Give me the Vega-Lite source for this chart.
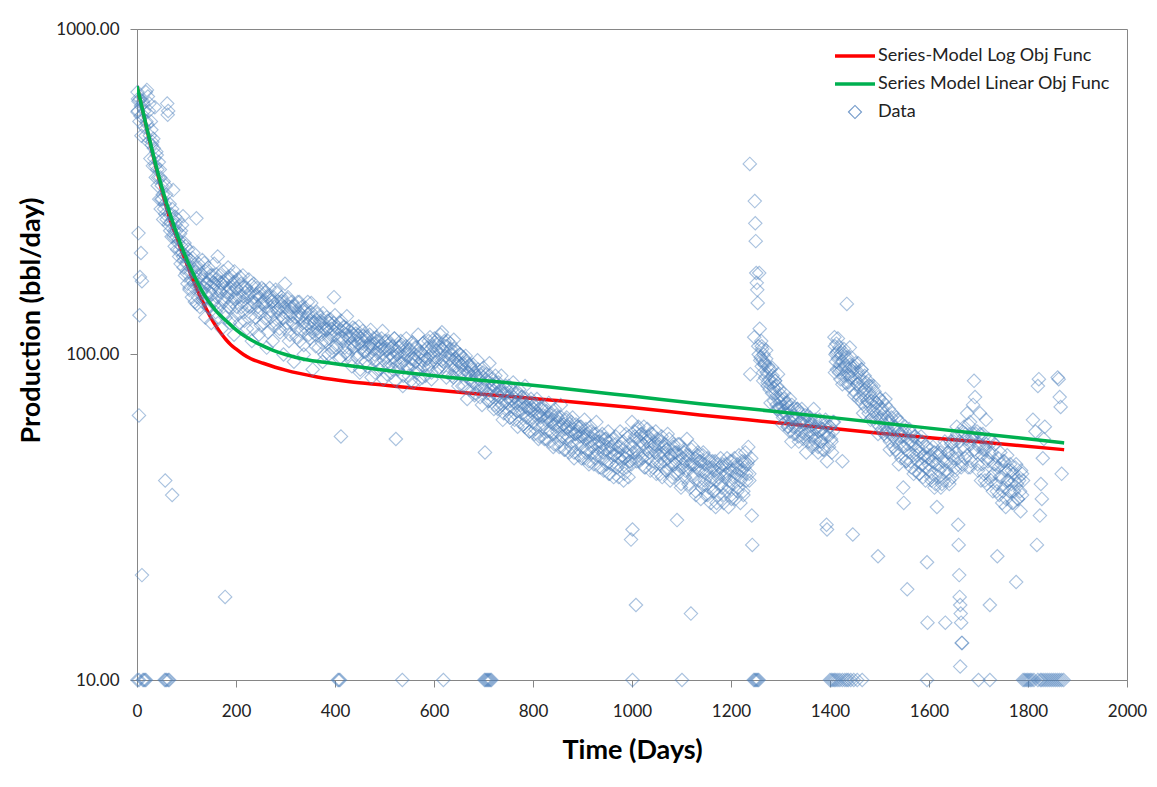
{
"$schema":"https://vega.github.io/schema/vega-lite/v6.json",
"autosize":{"type":"none"},
"padding":{"left":137,"top":29,"right":30,"bottom":107},
"width":990,"height":651,
"background":"white",
"config":{"view":{"stroke":"#868686","strokeWidth":1},"font":"Lato"},
"datasets":{
"logfit":[{"t":0,"q":668},{"t":10,"q":573},{"t":20,"q":492},{"t":30,"q":424},{"t":40,"q":367},{"t":50,"q":320},{"t":60,"q":282},{"t":70,"q":251},{"t":80,"q":230},{"t":90,"q":208},{"t":100,"q":191},{"t":110,"q":174},{"t":120,"q":160},{"t":130,"q":148},{"t":140,"q":138},{"t":150,"q":129},{"t":160,"q":122},{"t":170,"q":116},{"t":180,"q":111},{"t":190,"q":107},{"t":200,"q":104},{"t":215,"q":100},{"t":230,"q":97},{"t":255,"q":94},{"t":300,"q":89.5},{"t":364,"q":85.3},{"t":430,"q":82.5},{"t":497,"q":80.6},{"t":580,"q":78.3},{"t":667,"q":76.2},{"t":750,"q":74.4},{"t":834,"q":72.5},{"t":1000,"q":68.7},{"t":1137,"q":65.2},{"t":1299,"q":61.6},{"t":1500,"q":57.3},{"t":1700,"q":53.9},{"t":1873,"q":51.0}],
"linfit":[{"t":0,"q":668},{"t":10,"q":575},{"t":20,"q":495},{"t":30,"q":428},{"t":40,"q":372},{"t":50,"q":327},{"t":60,"q":291},{"t":70,"q":261},{"t":80,"q":236},{"t":90,"q":215},{"t":100,"q":197},{"t":110,"q":182},{"t":120,"q":169},{"t":130,"q":158},{"t":140,"q":149},{"t":150,"q":142},{"t":160,"q":136},{"t":170,"q":131},{"t":180,"q":127},{"t":195,"q":121},{"t":210,"q":116},{"t":230,"q":111},{"t":250,"q":107},{"t":275,"q":103},{"t":300,"q":100},{"t":340,"q":96.5},{"t":390,"q":94.2},{"t":450,"q":91.5},{"t":531,"q":88.4},{"t":633,"q":85},{"t":733,"q":82.3},{"t":834,"q":79.4},{"t":1000,"q":74.5},{"t":1137,"q":70.6},{"t":1299,"q":66.6},{"t":1500,"q":61.7},{"t":1700,"q":57.2},{"t":1873,"q":53.5}],
"data":[
{"t":1,"q":640},{"t":2,"q":560},{"t":3,"q":600},{"t":5,"q":520},{"t":6,"q":610},{"t":8,"q":580},{"t":9,"q":470},{"t":11,"q":545},{"t":12,"q":600},{"t":14,"q":500},{"t":15,"q":560},{"t":17,"q":470},{"t":18,"q":640},{"t":20,"q":650},{"t":21,"q":510},{"t":23,"q":450},{"t":24,"q":560},{"t":26,"q":470},{"t":27,"q":400},{"t":29,"q":490},{"t":30,"q":440},{"t":32,"q":380},{"t":33,"q":460},{"t":35,"q":400},{"t":36,"q":575},{"t":38,"q":350},{"t":39,"q":420},{"t":41,"q":370},{"t":42,"q":330},{"t":44,"q":390},{"t":45,"q":300},{"t":47,"q":350},{"t":48,"q":280},{"t":50,"q":330},{"t":51,"q":300},{"t":53,"q":260},{"t":54,"q":340},{"t":56,"q":290},{"t":57,"q":270},{"t":59,"q":310},{"t":60,"q":260},{"t":61,"q":590},{"t":62,"q":545},{"t":63,"q":560},{"t":64,"q":250},{"t":66,"q":290},{"t":67,"q":240},{"t":69,"q":270},{"t":70,"q":230},{"t":72,"q":260},{"t":73,"q":320},{"t":75,"q":240},{"t":76,"q":215},{"t":78,"q":250},{"t":79,"q":230},{"t":81,"q":210},{"t":82,"q":260},{"t":84,"q":225},{"t":85,"q":200},{"t":87,"q":235},{"t":88,"q":190},{"t":90,"q":215},{"t":91,"q":250},{"t":93,"q":200},{"t":94,"q":185},{"t":96,"q":220},{"t":97,"q":175},{"t":99,"q":200},{"t":100,"q":190},{"t":102,"q":165},{"t":103,"q":210},{"t":105,"q":180},{"t":106,"q":160},{"t":108,"q":195},{"t":109,"q":170},{"t":111,"q":150},{"t":112,"q":185},{"t":114,"q":205},{"t":115,"q":165},{"t":117,"q":145},{"t":118,"q":180},{"t":120,"q":262},{"t":121,"q":170},{"t":123,"q":150},{"t":124,"q":190},{"t":126,"q":160},{"t":127,"q":140},{"t":129,"q":175},{"t":130,"q":155},{"t":132,"q":195},{"t":133,"q":145},{"t":135,"q":170},{"t":136,"q":160},{"t":138,"q":130},{"t":139,"q":180},{"t":141,"q":165},{"t":142,"q":150},{"t":144,"q":185},{"t":145,"q":140},{"t":147,"q":170},{"t":148,"q":155},{"t":150,"q":125},{"t":151,"q":175},{"t":153,"q":160},{"t":154,"q":145},{"t":156,"q":190},{"t":157,"q":165},{"t":159,"q":135},{"t":160,"q":170},{"t":162,"q":150},{"t":163,"q":200},{"t":165,"q":160},{"t":166,"q":140},{"t":168,"q":175},{"t":169,"q":155},{"t":171,"q":120},{"t":172,"q":165},{"t":174,"q":180},{"t":175,"q":145},{"t":177,"q":160},{"t":178,"q":18},{"t":179,"q":130},{"t":181,"q":170},{"t":182,"q":150},{"t":184,"q":185},{"t":185,"q":140},{"t":187,"q":160},{"t":188,"q":125},{"t":190,"q":175},{"t":191,"q":155},{"t":193,"q":145},{"t":194,"q":165},{"t":196,"q":115},{"t":197,"q":180},{"t":199,"q":150},{"t":200,"q":160},{"t":202,"q":140},{"t":204,"q":170},{"t":206,"q":150},{"t":208,"q":125},{"t":210,"q":165},{"t":212,"q":145},{"t":214,"q":175},{"t":216,"q":135},{"t":218,"q":155},{"t":220,"q":160},{"t":222,"q":120},{"t":224,"q":150},{"t":226,"q":170},{"t":228,"q":140},{"t":230,"q":155},{"t":232,"q":110},{"t":234,"q":145},{"t":236,"q":165},{"t":238,"q":150},{"t":240,"q":130},{"t":242,"q":160},{"t":244,"q":140},{"t":246,"q":115},{"t":248,"q":150},{"t":250,"q":135},{"t":252,"q":160},{"t":254,"q":145},{"t":256,"q":125},{"t":258,"q":155},{"t":260,"q":140},{"t":262,"q":105},{"t":264,"q":150},{"t":266,"q":135},{"t":268,"q":160},{"t":270,"q":130},{"t":272,"q":145},{"t":274,"q":110},{"t":276,"q":150},{"t":278,"q":140},{"t":280,"q":125},{"t":282,"q":155},{"t":284,"q":135},{"t":286,"q":145},{"t":288,"q":120},{"t":290,"q":140},{"t":292,"q":150},{"t":294,"q":130},{"t":296,"q":100},{"t":298,"q":145},{"t":299,"q":165},{"t":301,"q":135},{"t":303,"q":125},{"t":305,"q":150},{"t":307,"q":140},{"t":309,"q":115},{"t":311,"q":135},{"t":313,"q":145},{"t":315,"q":125},{"t":317,"q":95},{"t":319,"q":140},{"t":321,"q":130},{"t":323,"q":120},{"t":325,"q":145},{"t":327,"q":135},{"t":329,"q":110},{"t":331,"q":130},{"t":333,"q":140},{"t":335,"q":125},{"t":337,"q":100},{"t":339,"q":135},{"t":341,"q":120},{"t":343,"q":130},{"t":345,"q":145},{"t":347,"q":115},{"t":349,"q":125},{"t":351,"q":135},{"t":353,"q":120},{"t":355,"q":90},{"t":357,"q":130},{"t":359,"q":125},{"t":361,"q":115},{"t":363,"q":135},{"t":365,"q":120},{"t":367,"q":105},{"t":369,"q":125},{"t":371,"q":130},{"t":373,"q":115},{"t":375,"q":95},{"t":377,"q":125},{"t":379,"q":120},{"t":381,"q":110},{"t":383,"q":130},{"t":385,"q":120},{"t":387,"q":100},{"t":389,"q":125},{"t":391,"q":115},{"t":393,"q":120},{"t":395,"q":105},{"t":397,"q":125},{"t":398,"q":150},{"t":400,"q":115},{"t":402,"q":105},{"t":404,"q":120},{"t":407,"q":112},{"t":409,"q":125},{"t":411,"q":98},{"t":412,"q":56},{"t":414,"q":118},{"t":416,"q":110},{"t":418,"q":122},{"t":420,"q":105},{"t":422,"q":115},{"t":424,"q":120},{"t":426,"q":100},{"t":428,"q":112},{"t":430,"q":118},{"t":432,"q":108},{"t":434,"q":92},{"t":436,"q":115},{"t":438,"q":105},{"t":440,"q":120},{"t":442,"q":110},{"t":444,"q":100},{"t":446,"q":115},{"t":448,"q":108},{"t":450,"q":88},{"t":452,"q":112},{"t":454,"q":105},{"t":456,"q":118},{"t":458,"q":102},{"t":460,"q":110},{"t":462,"q":95},{"t":464,"q":113},{"t":466,"q":105},{"t":468,"q":100},{"t":470,"q":115},{"t":472,"q":108},{"t":474,"q":85},{"t":476,"q":104},{"t":478,"q":112},{"t":480,"q":100},{"t":482,"q":108},{"t":484,"q":96},{"t":486,"q":110},{"t":488,"q":104},{"t":490,"q":90},{"t":492,"q":106},{"t":494,"q":112},{"t":496,"q":100},{"t":498,"q":84},{"t":500,"q":105},{"t":502,"q":110},{"t":504,"q":98},{"t":506,"q":104},{"t":508,"q":92},{"t":510,"q":108},{"t":512,"q":100},{"t":514,"q":88},{"t":516,"q":106},{"t":518,"q":98},{"t":520,"q":112},{"t":522,"q":95},{"t":523,"q":55},{"t":525,"q":102},{"t":527,"q":90},{"t":529,"q":105},{"t":531,"q":98},{"t":533,"q":110},{"t":535,"q":94},{"t":537,"q":80},{"t":539,"q":102},{"t":541,"q":96},{"t":543,"q":106},{"t":545,"q":92},{"t":547,"q":100},{"t":549,"q":86},{"t":551,"q":104},{"t":553,"q":97},{"t":555,"q":108},{"t":557,"q":93},{"t":559,"q":82},{"t":561,"q":100},{"t":563,"q":95},{"t":565,"q":105},{"t":567,"q":90},{"t":569,"q":98},{"t":571,"q":84},{"t":573,"q":102},{"t":575,"q":96},{"t":577,"q":108},{"t":579,"q":92},{"t":581,"q":99},{"t":583,"q":86},{"t":585,"q":104},{"t":587,"q":97},{"t":589,"q":110},{"t":591,"q":93},{"t":593,"q":100},{"t":595,"q":88},{"t":597,"q":106},{"t":599,"q":98},{"t":601,"q":112},{"t":603,"q":95},{"t":605,"q":103},{"t":607,"q":90},{"t":609,"q":108},{"t":611,"q":100},{"t":613,"q":115},{"t":615,"q":96},{"t":617,"q":104},{"t":619,"q":92},{"t":621,"q":110},{"t":623,"q":99},{"t":625,"q":106},{"t":627,"q":88},{"t":629,"q":102},{"t":631,"q":96},{"t":633,"q":108},{"t":635,"q":93},{"t":637,"q":100},{"t":639,"q":85},{"t":641,"q":104},{"t":643,"q":97},{"t":645,"q":92},{"t":647,"q":102},{"t":649,"q":95},{"t":651,"q":88},{"t":653,"q":100},{"t":655,"q":93},{"t":657,"q":80},{"t":659,"q":98},{"t":661,"q":90},{"t":663,"q":96},{"t":665,"q":86},{"t":667,"q":94},{"t":669,"q":88},{"t":671,"q":78},{"t":673,"q":92},{"t":675,"q":85},{"t":677,"q":90},{"t":679,"q":82},{"t":681,"q":88},{"t":683,"q":76},{"t":685,"q":86},{"t":687,"q":80},{"t":689,"q":90},{"t":691,"q":84},{"t":693,"q":74},{"t":695,"q":86},{"t":697,"q":80},{"t":699,"q":88},{"t":701,"q":78},{"t":703,"q":50},{"t":705,"q":84},{"t":707,"q":76},{"t":709,"q":82},{"t":711,"q":72},{"t":713,"q":86},{"t":715,"q":79},{"t":717,"q":84},{"t":719,"q":74},{"t":721,"q":80},{"t":723,"q":70},{"t":725,"q":82},{"t":727,"q":76},{"t":729,"q":68},{"t":731,"q":80},{"t":733,"q":74},{"t":735,"q":78},{"t":737,"q":70},{"t":739,"q":76},{"t":741,"q":66},{"t":743,"q":79},{"t":745,"q":72},{"t":747,"q":76},{"t":749,"q":68},{"t":751,"q":74},{"t":753,"q":64},{"t":755,"q":72},{"t":757,"q":78},{"t":759,"q":69},{"t":761,"q":74},{"t":763,"q":63},{"t":765,"q":71},{"t":767,"q":76},{"t":769,"q":67},{"t":771,"q":72},{"t":773,"q":62},{"t":775,"q":70},{"t":777,"q":74},{"t":779,"q":66},{"t":781,"q":71},{"t":783,"q":60},{"t":785,"q":69},{"t":787,"q":73},{"t":789,"q":64},{"t":791,"q":68},{"t":793,"q":58},{"t":795,"q":67},{"t":797,"q":71},{"t":799,"q":62},{"t":801,"q":68},{"t":803,"q":57},{"t":805,"q":65},{"t":807,"q":70},{"t":809,"q":61},{"t":811,"q":66},{"t":813,"q":56},{"t":815,"q":64},{"t":817,"q":68},{"t":819,"q":60},{"t":821,"q":65},{"t":823,"q":55},{"t":825,"q":63},{"t":827,"q":67},{"t":829,"q":58},{"t":831,"q":64},{"t":833,"q":54},{"t":835,"q":62},{"t":837,"q":66},{"t":839,"q":57},{"t":841,"q":63},{"t":843,"q":53},{"t":845,"q":61},{"t":847,"q":65},{"t":849,"q":58},{"t":851,"q":62},{"t":853,"q":52},{"t":855,"q":60},{"t":857,"q":64},{"t":859,"q":56},{"t":861,"q":61},{"t":863,"q":51},{"t":865,"q":59},{"t":867,"q":63},{"t":869,"q":55},{"t":871,"q":60},{"t":873,"q":50},{"t":875,"q":58},{"t":877,"q":62},{"t":879,"q":54},{"t":881,"q":59},{"t":883,"q":50},{"t":885,"q":57},{"t":887,"q":61},{"t":889,"q":53},{"t":891,"q":58},{"t":893,"q":49},{"t":895,"q":56},{"t":897,"q":60},{"t":899,"q":52},{"t":901,"q":57},{"t":903,"q":48},{"t":905,"q":55},{"t":907,"q":59},{"t":909,"q":51},{"t":911,"q":56},{"t":913,"q":47},{"t":915,"q":54},{"t":917,"q":58},{"t":919,"q":50},{"t":921,"q":55},{"t":923,"q":46},{"t":925,"q":53},{"t":927,"q":57},{"t":929,"q":49},{"t":931,"q":54},{"t":933,"q":45},{"t":935,"q":52},{"t":937,"q":56},{"t":939,"q":48},{"t":941,"q":53},{"t":943,"q":44},{"t":945,"q":51},{"t":947,"q":55},{"t":949,"q":47},{"t":951,"q":52},{"t":953,"q":43},{"t":955,"q":50},{"t":957,"q":54},{"t":959,"q":46},{"t":961,"q":51},{"t":963,"q":42},{"t":965,"q":49},{"t":967,"q":53},{"t":969,"q":46},{"t":971,"q":50},{"t":973,"q":42},{"t":975,"q":48},{"t":977,"q":52},{"t":979,"q":45},{"t":981,"q":49},{"t":983,"q":41},{"t":985,"q":48},{"t":987,"q":52},{"t":989,"q":45},{"t":991,"q":49},{"t":993,"q":42},{"t":995,"q":47},{"t":997,"q":53},{"t":998,"q":27},{"t":999,"q":46},{"t":1001,"q":29},{"t":1003,"q":52},{"t":1005,"q":58},{"t":1007,"q":48},{"t":1008,"q":17},{"t":1009,"q":55},{"t":1011,"q":50},{"t":1013,"q":60},{"t":1015,"q":47},{"t":1017,"q":54},{"t":1019,"q":57},{"t":1021,"q":49},{"t":1023,"q":53},{"t":1025,"q":45},{"t":1027,"q":56},{"t":1029,"q":51},{"t":1031,"q":59},{"t":1033,"q":48},{"t":1035,"q":54},{"t":1037,"q":44},{"t":1039,"q":52},{"t":1041,"q":57},{"t":1043,"q":47},{"t":1045,"q":53},{"t":1047,"q":50},{"t":1049,"q":43},{"t":1051,"q":55},{"t":1053,"q":49},{"t":1055,"q":52},{"t":1057,"q":46},{"t":1059,"q":54},{"t":1061,"q":42},{"t":1063,"q":50},{"t":1065,"q":47},{"t":1067,"q":53},{"t":1069,"q":44},{"t":1071,"q":51},{"t":1073,"q":48},{"t":1075,"q":55},{"t":1077,"q":41},{"t":1079,"q":49},{"t":1081,"q":46},{"t":1083,"q":52},{"t":1085,"q":43},{"t":1087,"q":50},{"t":1089,"q":47},{"t":1091,"q":31},{"t":1093,"q":53},{"t":1095,"q":44},{"t":1097,"q":49},{"t":1099,"q":40},{"t":1101,"q":48},{"t":1103,"q":45},{"t":1105,"q":51},{"t":1107,"q":42},{"t":1109,"q":47},{"t":1111,"q":55},{"t":1113,"q":44},{"t":1115,"q":49},{"t":1117,"q":39},{"t":1119,"q":16},{"t":1121,"q":46},{"t":1123,"q":52},{"t":1125,"q":43},{"t":1127,"q":48},{"t":1129,"q":38},{"t":1131,"q":45},{"t":1133,"q":50},{"t":1135,"q":41},{"t":1137,"q":47},{"t":1139,"q":36},{"t":1141,"q":44},{"t":1143,"q":49},{"t":1145,"q":40},{"t":1147,"q":46},{"t":1149,"q":37},{"t":1151,"q":43},{"t":1153,"q":48},{"t":1155,"q":39},{"t":1157,"q":45},{"t":1159,"q":35},{"t":1161,"q":42},{"t":1163,"q":47},{"t":1165,"q":38},{"t":1167,"q":44},{"t":1169,"q":34},{"t":1171,"q":41},{"t":1173,"q":46},{"t":1175,"q":37},{"t":1177,"q":43},{"t":1179,"q":48},{"t":1181,"q":39},{"t":1183,"q":44},{"t":1185,"q":35},{"t":1187,"q":42},{"t":1189,"q":46},{"t":1191,"q":38},{"t":1193,"q":43},{"t":1195,"q":34},{"t":1197,"q":41},{"t":1199,"q":47},{"t":1201,"q":37},{"t":1203,"q":44},{"t":1205,"q":40},{"t":1207,"q":48},{"t":1209,"q":36},{"t":1211,"q":43},{"t":1213,"q":46},{"t":1215,"q":39},{"t":1217,"q":44},{"t":1219,"q":35},{"t":1221,"q":42},{"t":1223,"q":47},{"t":1225,"q":38},{"t":1227,"q":45},{"t":1229,"q":50},{"t":1231,"q":41},{"t":1233,"q":46},{"t":1235,"q":52},{"t":1237,"q":43},{"t":1238,"q":385},{"t":1239,"q":87},{"t":1241,"q":48},{"t":1242,"q":32},{"t":1243,"q":26},{"t":1247,"q":113},{"t":1248,"q":296},{"t":1249,"q":253},{"t":1250,"q":223},{"t":1251,"q":178},{"t":1252,"q":166},{"t":1253,"q":158},{"t":1254,"q":144},{"t":1255,"q":106},{"t":1256,"q":100},{"t":1257,"q":178},{"t":1258,"q":120},{"t":1260,"q":98},{"t":1261,"q":110},{"t":1262,"q":92},{"t":1263,"q":104},{"t":1264,"q":96},{"t":1265,"q":88},{"t":1266,"q":100},{"t":1268,"q":93},{"t":1269,"q":85},{"t":1271,"q":97},{"t":1272,"q":88},{"t":1274,"q":80},{"t":1275,"q":92},{"t":1277,"q":84},{"t":1278,"q":78},{"t":1280,"q":90},{"t":1281,"q":82},{"t":1283,"q":76},{"t":1284,"q":86},{"t":1286,"q":79},{"t":1287,"q":72},{"t":1289,"q":83},{"t":1290,"q":76},{"t":1292,"q":70},{"t":1293,"q":80},{"t":1295,"q":73},{"t":1296,"q":68},{"t":1298,"q":78},{"t":1299,"q":71},{"t":1301,"q":66},{"t":1302,"q":75},{"t":1304,"q":69},{"t":1305,"q":64},{"t":1307,"q":73},{"t":1308,"q":67},{"t":1310,"q":62},{"t":1311,"q":71},{"t":1313,"q":65},{"t":1314,"q":60},{"t":1316,"q":69},{"t":1317,"q":63},{"t":1319,"q":58},{"t":1320,"q":67},{"t":1322,"q":62},{"t":1323,"q":70},{"t":1325,"q":60},{"t":1326,"q":65},{"t":1328,"q":57},{"t":1330,"q":64},{"t":1332,"q":59},{"t":1334,"q":68},{"t":1336,"q":56},{"t":1338,"q":62},{"t":1340,"q":66},{"t":1342,"q":58},{"t":1344,"q":63},{"t":1346,"q":55},{"t":1348,"q":61},{"t":1350,"q":65},{"t":1352,"q":57},{"t":1354,"q":62},{"t":1356,"q":54},{"t":1358,"q":60},{"t":1360,"q":64},{"t":1362,"q":56},{"t":1364,"q":61},{"t":1366,"q":53},{"t":1368,"q":59},{"t":1370,"q":63},{"t":1372,"q":55},{"t":1374,"q":60},{"t":1376,"q":52},{"t":1378,"q":58},{"t":1380,"q":62},{"t":1382,"q":54},{"t":1384,"q":59},{"t":1386,"q":51},{"t":1388,"q":57},{"t":1390,"q":61},{"t":1393,"q":30},{"t":1394,"q":29},{"t":1396,"q":56},{"t":1398,"q":52},{"t":1400,"q":60},{"t":1402,"q":55},{"t":1404,"q":50},{"t":1406,"q":58},{"t":1408,"q":62},{"t":1409,"q":113},{"t":1410,"q":106},{"t":1411,"q":100},{"t":1412,"q":95},{"t":1413,"q":108},{"t":1414,"q":90},{"t":1415,"q":102},{"t":1416,"q":97},{"t":1418,"q":88},{"t":1419,"q":105},{"t":1420,"q":93},{"t":1421,"q":84},{"t":1423,"q":99},{"t":1424,"q":90},{"t":1425,"q":47},{"t":1426,"q":95},{"t":1428,"q":86},{"t":1429,"q":101},{"t":1431,"q":91},{"t":1432,"q":82},{"t":1434,"q":143},{"t":1435,"q":96},{"t":1437,"q":87},{"t":1438,"q":80},{"t":1440,"q":93},{"t":1441,"q":85},{"t":1443,"q":98},{"t":1445,"q":89},{"t":1446,"q":28},{"t":1447,"q":78},{"t":1449,"q":92},{"t":1450,"q":84},{"t":1452,"q":76},{"t":1454,"q":88},{"t":1455,"q":81},{"t":1457,"q":94},{"t":1458,"q":73},{"t":1460,"q":85},{"t":1462,"q":78},{"t":1463,"q":90},{"t":1465,"q":71},{"t":1467,"q":82},{"t":1468,"q":75},{"t":1470,"q":86},{"t":1472,"q":69},{"t":1473,"q":79},{"t":1475,"q":72},{"t":1477,"q":83},{"t":1478,"q":66},{"t":1480,"q":76},{"t":1482,"q":70},{"t":1483,"q":80},{"t":1485,"q":64},{"t":1487,"q":73},{"t":1488,"q":67},{"t":1490,"q":77},{"t":1492,"q":62},{"t":1494,"q":71},{"t":1495,"q":65},{"t":1497,"q":24},{"t":1498,"q":74},{"t":1500,"q":60},{"t":1502,"q":68},{"t":1503,"q":63},{"t":1505,"q":72},{"t":1507,"q":58},{"t":1509,"q":66},{"t":1510,"q":61},{"t":1512,"q":70},{"t":1514,"q":56},{"t":1516,"q":64},{"t":1517,"q":59},{"t":1519,"q":68},{"t":1521,"q":54},{"t":1523,"q":62},{"t":1524,"q":57},{"t":1526,"q":66},{"t":1528,"q":52},{"t":1530,"q":60},{"t":1532,"q":55},{"t":1534,"q":64},{"t":1536,"q":50},{"t":1538,"q":58},{"t":1540,"q":53},{"t":1542,"q":62},{"t":1544,"q":48},{"t":1546,"q":56},{"t":1548,"q":39},{"t":1549,"q":35},{"t":1550,"q":52},{"t":1552,"q":60},{"t":1554,"q":47},{"t":1556,"q":19},{"t":1558,"q":55},{"t":1560,"q":50},{"t":1562,"q":58},{"t":1564,"q":45},{"t":1566,"q":53},{"t":1568,"q":49},{"t":1570,"q":56},{"t":1572,"q":44},{"t":1574,"q":51},{"t":1576,"q":47},{"t":1578,"q":55},{"t":1580,"q":43},{"t":1582,"q":50},{"t":1584,"q":46},{"t":1586,"q":54},{"t":1588,"q":42},{"t":1590,"q":49},{"t":1592,"q":45},{"t":1594,"q":52},{"t":1596,"q":23},{"t":1597,"q":15},{"t":1599,"q":48},{"t":1601,"q":44},{"t":1603,"q":51},{"t":1605,"q":41},{"t":1607,"q":47},{"t":1609,"q":43},{"t":1611,"q":50},{"t":1613,"q":40},{"t":1616,"q":34},{"t":1618,"q":46},{"t":1620,"q":42},{"t":1622,"q":49},{"t":1624,"q":39},{"t":1626,"q":45},{"t":1628,"q":52},{"t":1630,"q":41},{"t":1633,"q":15},{"t":1635,"q":47},{"t":1637,"q":43},{"t":1639,"q":50},{"t":1641,"q":40},{"t":1643,"q":46},{"t":1645,"q":53},{"t":1647,"q":42},{"t":1649,"q":48},{"t":1651,"q":55},{"t":1653,"q":44},{"t":1655,"q":50},{"t":1657,"q":57},{"t":1659,"q":30},{"t":1660,"q":26},{"t":1661,"q":21},{"t":1662,"q":18},{"t":1663,"q":17},{"t":1663,"q":11},{"t":1664,"q":16},{"t":1665,"q":15},{"t":1666,"q":13},{"t":1667,"q":13},{"t":1667,"q":46},{"t":1669,"q":52},{"t":1671,"q":60},{"t":1673,"q":48},{"t":1675,"q":55},{"t":1677,"q":66},{"t":1679,"q":45},{"t":1681,"q":53},{"t":1683,"q":62},{"t":1685,"q":47},{"t":1687,"q":56},{"t":1689,"q":70},{"t":1691,"q":83},{"t":1693,"q":74},{"t":1695,"q":50},{"t":1697,"q":58},{"t":1699,"q":44},{"t":1701,"q":53},{"t":1703,"q":66},{"t":1705,"q":41},{"t":1707,"q":49},{"t":1709,"q":57},{"t":1711,"q":43},{"t":1713,"q":51},{"t":1715,"q":63},{"t":1717,"q":40},{"t":1719,"q":48},{"t":1721,"q":55},{"t":1723,"q":17},{"t":1725,"q":42},{"t":1727,"q":50},{"t":1729,"q":38},{"t":1731,"q":46},{"t":1733,"q":53},{"t":1735,"q":40},{"t":1738,"q":24},{"t":1740,"q":45},{"t":1742,"q":37},{"t":1744,"q":50},{"t":1746,"q":42},{"t":1748,"q":35},{"t":1750,"q":47},{"t":1752,"q":39},{"t":1754,"q":44},{"t":1756,"q":36},{"t":1758,"q":49},{"t":1760,"q":41},{"t":1762,"q":38},{"t":1764,"q":46},{"t":1766,"q":40},{"t":1768,"q":35},{"t":1770,"q":43},{"t":1772,"q":38},{"t":1774,"q":45},{"t":1776,"q":20},{"t":1778,"q":40},{"t":1780,"q":36},{"t":1782,"q":42},{"t":1784,"q":38},{"t":1786,"q":44},{"t":1788,"q":37},{"t":1790,"q":41},{"t":1810,"q":63},{"t":1815,"q":58},{"t":1818,"q":26},{"t":1820,"q":80},{"t":1822,"q":84},{"t":1824,"q":32},{"t":1826,"q":40},{"t":1828,"q":36},{"t":1830,"q":48},{"t":1832,"q":55},{"t":1834,"q":60},{"t":1860,"q":85},{"t":1862,"q":84},{"t":1864,"q":74},{"t":1866,"q":69},{"t":1868,"q":43},
{"t":1,"q":556},{"t":3,"q":236},{"t":4,"q":65},{"t":5,"q":132},{"t":6,"q":173},{"t":8,"q":205},{"t":10,"q":21},{"t":10,"q":168},{"t":57,"q":41},{"t":71,"q":37},{"t":93,"q":266},
{"t":2,"q":610},{"t":7,"q":540},{"t":13,"q":590},{"t":19,"q":520},{"t":22,"q":620},{"t":25,"q":590},{"t":28,"q":520},{"t":31,"q":450},{"t":34,"q":430},{"t":37,"q":380},{"t":40,"q":410},{"t":43,"q":350},{"t":46,"q":370},{"t":49,"q":300},{"t":52,"q":310},{"t":55,"q":280},{"t":58,"q":330},{"t":65,"q":270},{"t":68,"q":255},{"t":71,"q":280},{"t":74,"q":230},{"t":77,"q":265},{"t":80,"q":240},{"t":83,"q":220},{"t":86,"q":210},{"t":89,"q":240},{"t":92,"q":205},{"t":95,"q":195},{"t":98,"q":215},
{"t":100,"q":178},{"t":103,"q":198},{"t":106,"q":158},{"t":109,"q":180},{"t":112,"q":198},{"t":115,"q":160},{"t":118,"q":179},{"t":121,"q":143},{"t":124,"q":185},{"t":127,"q":164},{"t":130,"q":177},{"t":133,"q":148},{"t":136,"q":191},{"t":139,"q":154},{"t":142,"q":166},{"t":145,"q":139},{"t":148,"q":175},{"t":151,"q":153},{"t":154,"q":166},{"t":157,"q":142},{"t":160,"q":176},{"t":163,"q":130},{"t":166,"q":157},{"t":169,"q":166},{"t":172,"q":148},{"t":175,"q":167},{"t":178,"q":135},{"t":181,"q":155},{"t":184,"q":173},{"t":187,"q":140},{"t":190,"q":159},{"t":193,"q":128},{"t":196,"q":167},{"t":199,"q":148},{"t":202,"q":159},{"t":205,"q":133},{"t":208,"q":173},{"t":211,"q":140},{"t":214,"q":151},{"t":217,"q":127},{"t":220,"q":161},{"t":223,"q":141},{"t":226,"q":154},{"t":229,"q":131},{"t":232,"q":163},{"t":235,"q":120},{"t":238,"q":144},{"t":241,"q":153},{"t":244,"q":135},{"t":247,"q":154},{"t":250,"q":123},{"t":253,"q":143},{"t":256,"q":158},{"t":259,"q":129},{"t":262,"q":145},{"t":265,"q":117},{"t":268,"q":152},{"t":271,"q":136},{"t":274,"q":146},{"t":277,"q":122},{"t":280,"q":158},{"t":283,"q":128},{"t":286,"q":138},{"t":289,"q":117},{"t":292,"q":146},{"t":295,"q":129},{"t":298,"q":140},{"t":301,"q":120},{"t":304,"q":148},{"t":307,"q":110},{"t":310,"q":131},{"t":313,"q":140},{"t":316,"q":124},{"t":319,"q":141},{"t":322,"q":113},{"t":325,"q":131},{"t":328,"q":145},{"t":331,"q":118},{"t":334,"q":132},{"t":337,"q":107},{"t":340,"q":139},{"t":343,"q":124},{"t":346,"q":133},{"t":349,"q":112},{"t":352,"q":144},{"t":355,"q":117},{"t":358,"q":126},{"t":361,"q":106},{"t":364,"q":133},{"t":367,"q":117},{"t":370,"q":127},{"t":373,"q":109},{"t":376,"q":134},{"t":379,"q":100},{"t":382,"q":119},{"t":385,"q":127},{"t":388,"q":112},{"t":391,"q":128},{"t":394,"q":102},{"t":397,"q":118},{"t":400,"q":132},{"t":403,"q":107},{"t":406,"q":121},{"t":409,"q":97},{"t":412,"q":127},{"t":415,"q":112},{"t":418,"q":121},{"t":421,"q":101},{"t":424,"q":131},{"t":427,"q":105},{"t":430,"q":114},{"t":433,"q":96},{"t":436,"q":121},{"t":439,"q":106},{"t":442,"q":116},{"t":445,"q":98},{"t":448,"q":122},{"t":451,"q":90},{"t":454,"q":108},{"t":457,"q":114},{"t":460,"q":102},{"t":463,"q":114},{"t":466,"q":92},{"t":469,"q":106},{"t":472,"q":119},{"t":475,"q":97},{"t":478,"q":108},{"t":481,"q":88},{"t":484,"q":113},{"t":487,"q":101},{"t":490,"q":109},{"t":493,"q":91},{"t":496,"q":118},{"t":499,"q":96},{"t":502,"q":103},{"t":505,"q":87},{"t":508,"q":110},{"t":511,"q":97},{"t":514,"q":105},{"t":517,"q":90},{"t":520,"q":112},{"t":523,"q":83},{"t":526,"q":100},{"t":529,"q":106},{"t":532,"q":94},{"t":535,"q":107},{"t":538,"q":86},{"t":541,"q":100},{"t":544,"q":112},{"t":547,"q":91},{"t":550,"q":103},{"t":553,"q":83},{"t":556,"q":109},{"t":559,"q":97},{"t":562,"q":105},{"t":565,"q":88},{"t":568,"q":115},{"t":571,"q":93},{"t":574,"q":101},{"t":577,"q":85},{"t":580,"q":109},{"t":583,"q":96},{"t":586,"q":105},{"t":589,"q":91},{"t":592,"q":113},{"t":595,"q":84},{"t":598,"q":102},{"t":601,"q":109},{"t":604,"q":98},{"t":607,"q":111},{"t":610,"q":91},{"t":613,"q":105},{"t":616,"q":117},{"t":619,"q":95},{"t":622,"q":106},{"t":625,"q":85},{"t":628,"q":110},{"t":631,"q":97},{"t":634,"q":104},{"t":637,"q":86},{"t":640,"q":111},{"t":643,"q":89},{"t":646,"q":96},{"t":649,"q":80},{"t":652,"q":100},{"t":655,"q":87},{"t":658,"q":94},{"t":661,"q":80},{"t":664,"q":99},{"t":667,"q":73},{"t":670,"q":88},{"t":673,"q":93},{"t":676,"q":83},{"t":679,"q":93},{"t":682,"q":75},{"t":685,"q":86},{"t":688,"q":96},{"t":691,"q":77},{"t":694,"q":87},{"t":697,"q":70},{"t":700,"q":91},{"t":703,"q":80},{"t":706,"q":87},{"t":709,"q":72},{"t":712,"q":94},{"t":715,"q":75},{"t":718,"q":81},{"t":721,"q":68},{"t":724,"q":86},{"t":727,"q":75},{"t":730,"q":82},{"t":733,"q":69},{"t":736,"q":86},{"t":739,"q":63},{"t":742,"q":76},{"t":745,"q":80},{"t":748,"q":71},{"t":751,"q":80},{"t":754,"q":64},{"t":757,"q":73},{"t":760,"q":82},{"t":763,"q":66},{"t":766,"q":75},{"t":769,"q":60},{"t":772,"q":78},{"t":775,"q":68},{"t":778,"q":74},{"t":781,"q":61},{"t":784,"q":80},{"t":787,"q":64},{"t":790,"q":69},{"t":793,"q":58},{"t":796,"q":73},{"t":799,"q":64},{"t":802,"q":70},{"t":805,"q":59},{"t":808,"q":73},{"t":811,"q":55},{"t":814,"q":65},{"t":817,"q":69},{"t":820,"q":61},{"t":823,"q":69},{"t":826,"q":55},{"t":829,"q":64},{"t":832,"q":71},{"t":835,"q":58},{"t":838,"q":65},{"t":841,"q":52},{"t":844,"q":68},{"t":847,"q":60},{"t":850,"q":64},{"t":853,"q":54},{"t":856,"q":70},{"t":859,"q":56},{"t":862,"q":61},{"t":865,"q":51},{"t":868,"q":64},{"t":871,"q":56},{"t":874,"q":61},{"t":877,"q":52},{"t":880,"q":64},{"t":883,"q":48},{"t":886,"q":57},{"t":889,"q":60},{"t":892,"q":54},{"t":895,"q":60},{"t":898,"q":48},{"t":901,"q":56},{"t":904,"q":63},{"t":907,"q":50},{"t":910,"q":57},{"t":913,"q":46},{"t":916,"q":60},{"t":919,"q":52},{"t":922,"q":57},{"t":925,"q":48},{"t":928,"q":62},{"t":931,"q":50},{"t":934,"q":54},{"t":937,"q":45},{"t":940,"q":57},{"t":943,"q":50},{"t":946,"q":55},{"t":949,"q":46},{"t":952,"q":58},{"t":955,"q":43},{"t":958,"q":52},{"t":961,"q":55},{"t":964,"q":49},{"t":967,"q":56},{"t":970,"q":45},{"t":973,"q":52},{"t":976,"q":58},{"t":979,"q":47},{"t":982,"q":54},{"t":985,"q":43},{"t":988,"q":57},{"t":991,"q":50},{"t":994,"q":56},{"t":997,"q":47},{"t":1000,"q":62},{"t":1003,"q":50},{"t":1006,"q":56},{"t":1009,"q":47},{"t":1012,"q":59},{"t":1015,"q":52},{"t":1018,"q":57},{"t":1021,"q":48},{"t":1024,"q":60},{"t":1027,"q":45},{"t":1030,"q":54},{"t":1033,"q":56},{"t":1036,"q":50},{"t":1039,"q":57},{"t":1042,"q":45},{"t":1045,"q":52},{"t":1048,"q":58},{"t":1051,"q":47},{"t":1054,"q":53},{"t":1057,"q":43},{"t":1060,"q":56},{"t":1063,"q":49},{"t":1066,"q":52},{"t":1069,"q":44},{"t":1072,"q":57},{"t":1075,"q":46},{"t":1078,"q":49},{"t":1081,"q":42},{"t":1084,"q":53},{"t":1087,"q":46},{"t":1090,"q":50},{"t":1093,"q":43},{"t":1096,"q":53},{"t":1099,"q":39},{"t":1102,"q":46},{"t":1105,"q":50},{"t":1108,"q":44},{"t":1111,"q":49},{"t":1114,"q":40},{"t":1117,"q":46},{"t":1120,"q":51},{"t":1123,"q":42},{"t":1126,"q":46},{"t":1129,"q":37},{"t":1132,"q":49},{"t":1135,"q":44},{"t":1138,"q":47},{"t":1141,"q":39},{"t":1144,"q":50},{"t":1147,"q":41},{"t":1150,"q":44},{"t":1153,"q":37},{"t":1156,"q":47},{"t":1159,"q":41},{"t":1162,"q":45},{"t":1165,"q":38},{"t":1168,"q":47},{"t":1171,"q":35},{"t":1174,"q":42},{"t":1177,"q":45},{"t":1180,"q":40},{"t":1183,"q":46},{"t":1186,"q":37},{"t":1189,"q":43},{"t":1192,"q":48},{"t":1195,"q":39},{"t":1198,"q":44},{"t":1201,"q":36},{"t":1204,"q":47},{"t":1207,"q":42},{"t":1210,"q":45},{"t":1213,"q":38},{"t":1216,"q":49},{"t":1219,"q":41},{"t":1222,"q":44},{"t":1225,"q":37},{"t":1228,"q":47},{"t":1231,"q":43},{"t":1234,"q":47},{"t":1237,"q":41},
{"t":1259,"q":96},{"t":1262,"q":106},{"t":1265,"q":83},{"t":1268,"q":94},{"t":1271,"q":103},{"t":1274,"q":82},{"t":1277,"q":90},{"t":1280,"q":71},{"t":1283,"q":91},{"t":1286,"q":79},{"t":1289,"q":83},{"t":1292,"q":68},{"t":1295,"q":87},{"t":1298,"q":69},{"t":1301,"q":73},{"t":1304,"q":61},{"t":1307,"q":76},{"t":1310,"q":66},{"t":1313,"q":71},{"t":1316,"q":60},{"t":1319,"q":73},{"t":1322,"q":54},{"t":1325,"q":64},{"t":1328,"q":68},{"t":1331,"q":60},{"t":1334,"q":68},{"t":1337,"q":54},{"t":1340,"q":62},{"t":1343,"q":68},{"t":1346,"q":56},{"t":1349,"q":63},{"t":1352,"q":50},{"t":1355,"q":65},{"t":1358,"q":58},{"t":1361,"q":62},{"t":1364,"q":52},{"t":1367,"q":68},{"t":1370,"q":54},{"t":1373,"q":59},{"t":1376,"q":50},{"t":1379,"q":63},{"t":1382,"q":54},{"t":1385,"q":59},{"t":1388,"q":51},{"t":1391,"q":63},{"t":1394,"q":47},{"t":1397,"q":57},{"t":1400,"q":60},{"t":1403,"q":54},{"t":1406,"q":62},
{"t":1410,"q":88},{"t":1413,"q":101},{"t":1416,"q":112},{"t":1419,"q":90},{"t":1422,"q":101},{"t":1425,"q":81},{"t":1428,"q":104},{"t":1431,"q":92},{"t":1434,"q":98},{"t":1437,"q":82},{"t":1440,"q":105},{"t":1443,"q":85},{"t":1446,"q":91},{"t":1449,"q":75},{"t":1452,"q":94},{"t":1455,"q":81},{"t":1458,"q":88},{"t":1461,"q":74},{"t":1464,"q":90},{"t":1467,"q":66},{"t":1470,"q":78},{"t":1473,"q":82},{"t":1476,"q":72},{"t":1479,"q":80},{"t":1482,"q":63},{"t":1485,"q":72},{"t":1488,"q":80},{"t":1491,"q":64},{"t":1494,"q":71},{"t":1497,"q":57},{"t":1500,"q":73},{"t":1503,"q":64},{"t":1506,"q":68},{"t":1509,"q":57},{"t":1512,"q":73},{"t":1515,"q":58},{"t":1518,"q":62},{"t":1521,"q":51},{"t":1524,"q":64},{"t":1527,"q":56},{"t":1530,"q":60},{"t":1533,"q":51},{"t":1536,"q":63},{"t":1539,"q":46},{"t":1542,"q":56},{"t":1545,"q":58},{"t":1548,"q":52},{"t":1551,"q":58},{"t":1554,"q":47},{"t":1557,"q":53},{"t":1560,"q":59},{"t":1563,"q":47},{"t":1566,"q":54},{"t":1569,"q":43},{"t":1572,"q":56},{"t":1575,"q":49},{"t":1578,"q":52},{"t":1581,"q":43},{"t":1584,"q":56},{"t":1587,"q":46},{"t":1590,"q":48},{"t":1593,"q":41},{"t":1596,"q":52},{"t":1599,"q":46},{"t":1602,"q":49},{"t":1605,"q":42},{"t":1608,"q":52},{"t":1611,"q":39},{"t":1614,"q":46},{"t":1617,"q":50},{"t":1620,"q":44},{"t":1623,"q":50},{"t":1626,"q":40},{"t":1629,"q":47},{"t":1632,"q":54},{"t":1635,"q":44},{"t":1638,"q":50},{"t":1641,"q":41},{"t":1644,"q":54},{"t":1647,"q":49},{"t":1650,"q":54},{"t":1653,"q":45},{"t":1656,"q":60},{"t":1659,"q":48},{"t":1662,"q":54},{"t":1665,"q":45},{"t":1668,"q":58},{"t":1671,"q":51},{"t":1674,"q":57},{"t":1677,"q":49},{"t":1680,"q":61},{"t":1683,"q":45},{"t":1686,"q":55},{"t":1689,"q":57},{"t":1692,"q":51},{"t":1695,"q":57},{"t":1698,"q":46},{"t":1701,"q":52},{"t":1704,"q":57},{"t":1707,"q":46},{"t":1710,"q":51},{"t":1713,"q":41},{"t":1716,"q":53},{"t":1719,"q":47},{"t":1722,"q":50},{"t":1725,"q":41},{"t":1728,"q":54},{"t":1731,"q":43},{"t":1734,"q":46},{"t":1737,"q":38},{"t":1740,"q":48},{"t":1743,"q":42},{"t":1746,"q":46},{"t":1749,"q":38},{"t":1752,"q":47},{"t":1755,"q":34},{"t":1758,"q":41},{"t":1761,"q":44},{"t":1764,"q":38},{"t":1767,"q":44},{"t":1770,"q":35},{"t":1773,"q":41},{"t":1776,"q":46},{"t":1779,"q":36},{"t":1782,"q":41},{"t":1785,"q":33},{"t":1788,"q":43},
{"t":1,"q":10},{"t":4,"q":10},{"t":12,"q":10},{"t":14,"q":10},{"t":16,"q":10},{"t":18,"q":10},{"t":56,"q":10},{"t":58,"q":10},{"t":60,"q":10},{"t":63,"q":10},{"t":65,"q":10},{"t":406,"q":10},{"t":408,"q":10},{"t":410,"q":10},{"t":536,"q":10},{"t":619,"q":10},{"t":702,"q":10},{"t":704,"q":10},{"t":706,"q":10},{"t":708,"q":10},{"t":710,"q":10},{"t":712,"q":10},{"t":714,"q":10},{"t":716,"q":10},{"t":1001,"q":10},{"t":1101,"q":10},{"t":1246,"q":10},{"t":1248,"q":10},{"t":1250,"q":10},{"t":1252,"q":10},{"t":1254,"q":10},{"t":1256,"q":10},{"t":1400,"q":10},{"t":1403,"q":10},{"t":1406,"q":10},{"t":1409,"q":10},{"t":1412,"q":10},{"t":1416,"q":10},{"t":1420,"q":10},{"t":1425,"q":10},{"t":1430,"q":10},{"t":1434,"q":10},{"t":1437,"q":10},{"t":1442,"q":10},{"t":1448,"q":10},{"t":1455,"q":10},{"t":1465,"q":10},{"t":1596,"q":10},{"t":1700,"q":10},{"t":1723,"q":10},{"t":1790,"q":10},{"t":1793,"q":10},{"t":1796,"q":10},{"t":1799,"q":10},{"t":1802,"q":10},{"t":1805,"q":10},{"t":1808,"q":10},{"t":1812,"q":10},{"t":1820,"q":10},{"t":1825,"q":10},{"t":1828,"q":10},{"t":1832,"q":10},{"t":1836,"q":10},{"t":1840,"q":10},{"t":1844,"q":10},{"t":1848,"q":10},{"t":1852,"q":10},{"t":1856,"q":10},{"t":1860,"q":10},{"t":1864,"q":10},{"t":1868,"q":10},{"t":1872,"q":10}
]},
"encoding":{
"x":{"field":"t","type":"quantitative","scale":{"domain":[0,2000],"nice":false},
 "axis":{"title":"Time (Days)","values":[0,200,400,600,800,1000,1200,1400,1600,1800,2000],"format":"d","grid":false,"domainColor":"#868686","tickColor":"#868686","tickSize":7,"labelFont":"Lato","labelFontSize":17,"labelColor":"#222222","labelPadding":16,"labelFlush":false,"titleFont":"Lato","titleFontSize":27,"titleFontWeight":"bold","titleColor":"#000000","titlePadding":18}},
"y":{"field":"q","type":"quantitative","scale":{"type":"log","domain":[10,1000],"nice":false},
 "axis":{"title":"Production (bbl/day)","values":[10,100,1000],"format":".2f","grid":false,"domainColor":"#868686","tickColor":"#868686","tickSize":7,"labelFont":"Lato","labelFontSize":17,"labelColor":"#222222","labelPadding":11,"labelFlush":false,"titleFont":"Lato","titleFontSize":27,"titleFontWeight":"bold","titleColor":"#000000","titleX":-98,"titleY":291,"titleAngle":-90,"titleAlign":"center","titleBaseline":"alphabetic"}},
"color":{"datum":"Data","type":"nominal","scale":{"domain":["Series-Model Log Obj Func","Series Model Linear Obj Func","Data"],"range":["#FF0000","#00B050","#4F81BD"]},
 "legend":{"title":null,"orient":"none","legendX":709,"legendY":18,"padding":0,"symbolType":"stroke","symbolSize":1600,"symbolStrokeWidth":3.5,"labelFont":"Lato","labelFontSize":18,"labelColor":"#222222","labelOffset":14,"labelLimit":0,"rowPadding":10,
  "encode":{"symbols":{"update":{"shape":{"signal":"datum.value === 'Data' ? 'diamond' : 'stroke'"},"size":{"signal":"datum.value === 'Data' ? 170 : 1600"},"strokeWidth":{"signal":"datum.value === 'Data' ? 1.1 : 3.5"},"fill":{"value":"transparent"},"stroke":{"scale":"color","field":"value"},"opacity":{"signal":"datum.value === 'Data' ? 0.8 : 1"}}}}}}
},
"layer":[
{"data":{"name":"logfit"},"mark":{"type":"line","strokeWidth":3.5,"interpolate":"monotone","clip":true},"encoding":{"color":{"datum":"Series-Model Log Obj Func"}}},
{"data":{"name":"data"},"mark":{"type":"point","shape":"diamond","filled":false,"size":180,"strokeWidth":1.1,"strokeOpacity":0.7},"encoding":{}},
{"data":{"name":"linfit"},"mark":{"type":"line","strokeWidth":3.5,"interpolate":"monotone","clip":true},"encoding":{"color":{"datum":"Series Model Linear Obj Func"}}}
]
}
